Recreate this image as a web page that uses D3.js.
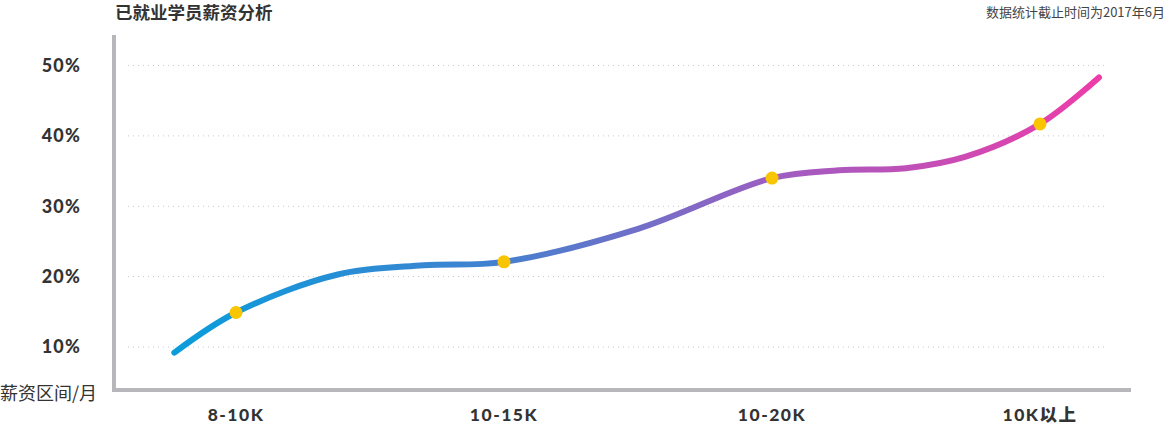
<!DOCTYPE html>
<html><head><meta charset="utf-8">
<script src="https://cdn.jsdelivr.net/npm/d3@7/dist/d3.min.js"></script>
<style>
html,body{margin:0;padding:0;background:#fff;}
svg{display:block;}
</style></head>
<body>
<svg id="chart" width="1169" height="426"></svg>
<script>
const title = "已就业学员薪资分析";
const note = "数据统计截止时间为2017年6月";
const axisTitle = "薪资区间/月";
const categories = ["8-10K", "10-15K", "10-20K", "10K以上"];
const values = [14.9, 22.1, 34.0, 41.7];
const yTicks = [10, 20, 30, 40, 50];
// smooth trend curve: position in category units, value in %
const curvePos = [-0.23, 0, 0.38, 0.7, 1, 1.5, 2, 2.25, 2.5, 2.72, 3, 3.22];
const curveVal = [9.2, 14.9, 20.3, 21.6, 22.1, 26.8, 34.0, 35.1, 35.4, 37.0, 41.7, 48.3];
const gradStops = ["#0a9ddb", "#3f82d0", "#a25cc0", "#ee3ca9"];

const svg = d3.select("#chart");
const x = d3.scaleLinear().domain([0, 3]).range([236, 1040]);
const y = d3.scaleLinear().domain([10, 50]).range([347, 65.5]);

// title & note
svg.append("text").attr("x", 115).attr("y", 19).text(title)
  .attr("font-family", "Noto Sans CJK SC").attr("font-weight", 700).attr("font-size", 17.5).attr("fill", "#333");
svg.append("text").attr("x", 1165).attr("y", 17).attr("text-anchor", "end").text(note)
  .attr("font-family", "Noto Sans CJK SC").attr("font-size", 13).attr("fill", "#444");

// grid
svg.append("g").selectAll("line").data(yTicks).join("line")
  .attr("x1", 128).attr("x2", 1108)
  .attr("y1", d => y(d)).attr("y2", d => y(d))
  .attr("stroke", "#c8c8c8").attr("stroke-width", 1).attr("stroke-dasharray", "1,4");

// y labels
svg.append("g").selectAll("text").data(yTicks).join("text")
  .attr("x", 81).attr("y", d => y(d)).attr("dy", "0.36em").attr("text-anchor", "end")
  .text(d => d + "%")
  .attr("font-family", "Lato, 'Open Sans', sans-serif").attr("font-weight", 900).attr("font-size", 18).attr("fill", "#333")
  .attr("letter-spacing", 1.2);

// axes lines
svg.append("path").attr("d", `M114,35 V390 H1131`).attr("fill", "none")
  .attr("stroke", "#b6b6bb").attr("stroke-width", 4);

// axis title
svg.append("text").attr("x", 0).attr("y", 400).text(axisTitle)
  .attr("font-family", "Noto Sans CJK SC").attr("font-size", 18).attr("fill", "#333");

// x labels
svg.append("g").selectAll("text").data(categories).join("text")
  .attr("x", (d, i) => x(i)).attr("y", 421).attr("text-anchor", "middle").text(d => d)
  .attr("font-family", "Lato, 'Noto Sans CJK SC', sans-serif").attr("font-weight", 900).attr("font-size", 17.5).attr("fill", "#333")
  .attr("letter-spacing", 1.5);

// gradient
const defs = svg.append("defs");
const grad = defs.append("linearGradient").attr("id", "lg").attr("gradientUnits", "userSpaceOnUse")
  .attr("x1", x(curvePos[0])).attr("x2", x(curvePos[curvePos.length - 1])).attr("y1", 0).attr("y2", 0);
gradStops.forEach((c, i) => grad.append("stop").attr("offset", i / (gradStops.length - 1)).attr("stop-color", c));

const pts = curvePos.map((p, i) => [p, curveVal[i]]);
const line = d3.line().x(d => x(d[0])).y(d => y(d[1])).curve(d3.curveCatmullRom.alpha(0.5));
svg.append("path").attr("d", line(pts)).attr("fill", "none")
  .attr("stroke", "url(#lg)").attr("stroke-width", 6).attr("stroke-linecap", "round");

// dots
svg.append("g").selectAll("circle").data(values).join("circle")
  .attr("cx", (d, i) => x(i)).attr("cy", d => y(d)).attr("r", 6.5).attr("fill", "#f9c500");
</script>
</body></html>
